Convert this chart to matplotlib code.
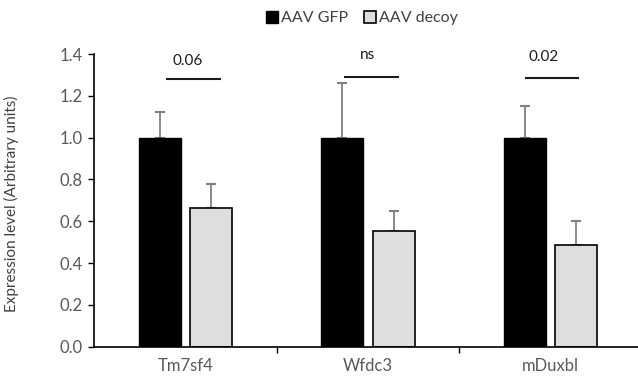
import matplotlib.pyplot as plt
import numpy as np

plt.rcParams['font.family'] = ['Lato', 'DejaVu Sans']

genes = ["Tm7sf4", "Wfdc3", "mDuxbl"]
gfp_mean = [1.0, 1.0, 1.0]
gfp_err = [0.123, 0.26, 0.152]
decoy_mean = [0.662, 0.555, 0.485]
decoy_err = [0.118, 0.094, 0.117]
sig_labels = ["0.06", "ns", "0.02"]
sig_height = [1.281, 1.289, 1.284]
sig_text_y = [1.335, 1.36, 1.352]
sig_span = [(-0.104, 0.197), (-0.134, 0.167), (-0.139, 0.156)]
sig_text_x = [0.01, -0.004, -0.036]

TICK_GRAY = "#595959"
ERR_GRAY = "#808080"

fig = plt.figure(figsize=(6.38, 3.77), dpi=100)
ax = fig.add_axes([94 / 638, 1 - 346.7 / 377, 548 / 638, 292.6 / 377])

x = np.arange(len(genes))
off = 0.14
w = 0.23
ax.bar(x - off, gfp_mean, w, color="black", edgecolor="black", lw=1.0,
       label="AAV GFP", zorder=2)
ax.bar(x + off, decoy_mean, w, color="#dedede", edgecolor="black", lw=1.2,
       label="AAV decoy", zorder=2)
ax.errorbar(x - off, gfp_mean, yerr=[np.zeros(3), gfp_err], fmt="none",
            ecolor=ERR_GRAY, elinewidth=1.3, capsize=3.5, capthick=1.5, zorder=1)
ax.errorbar(x + off, decoy_mean, yerr=[np.zeros(3), decoy_err], fmt="none",
            ecolor=ERR_GRAY, elinewidth=1.3, capsize=3.5, capthick=1.5, zorder=1)

for i, lab in enumerate(sig_labels):
    x0, x1 = sig_span[i]
    ax.plot([i + x0, i + x1], [sig_height[i]] * 2, color="#1a1a1a", lw=1.5,
            solid_capstyle="butt")
    ax.text(i + sig_text_x[i], sig_text_y[i], lab, ha="center", va="bottom",
            fontsize=11, color="#1a1a1a")

ax.set_xlim(-0.5, 2.5)
ax.set_ylim(0, 1.4)
ax.set_yticks(np.arange(0, 1.41, 0.2))
ax.set_yticklabels([f"{v:.1f}" for v in np.arange(0, 1.41, 0.2)])
ax.set_xticks([0.5, 1.5], minor=False)
ax.set_xticklabels([])
ax.set_xticks(x, minor=True)
ax.set_xticklabels(genes, minor=True)
ax.tick_params(axis="x", which="major", direction="out", length=4, width=1.0)
ax.tick_params(axis="x", which="minor", length=0, pad=8, labelsize=12,
               labelcolor=TICK_GRAY)
ax.tick_params(axis="y", direction="out", length=4, width=1.0, pad=4,
               labelsize=12, labelcolor=TICK_GRAY)
for s in ["top", "right"]:
    ax.spines[s].set_visible(False)
for s in ["left", "bottom"]:
    ax.spines[s].set_linewidth(1.2)
ax.spines["bottom"].set_clip_on(False)

ax.set_ylabel("Expression level (Arbitrary units)", fontsize=11,
              color="#404040")
ax.yaxis.set_label_coords(-0.136, 0.49)

fig.legend(loc="center", bbox_to_anchor=(0.567, 0.952), ncol=2, frameon=False,
           fontsize=11.5, handlelength=0.75, handleheight=0.75,
           handletextpad=0.2, columnspacing=1.0, labelcolor="#404040")

fig.savefig("out.png", dpi=100)
